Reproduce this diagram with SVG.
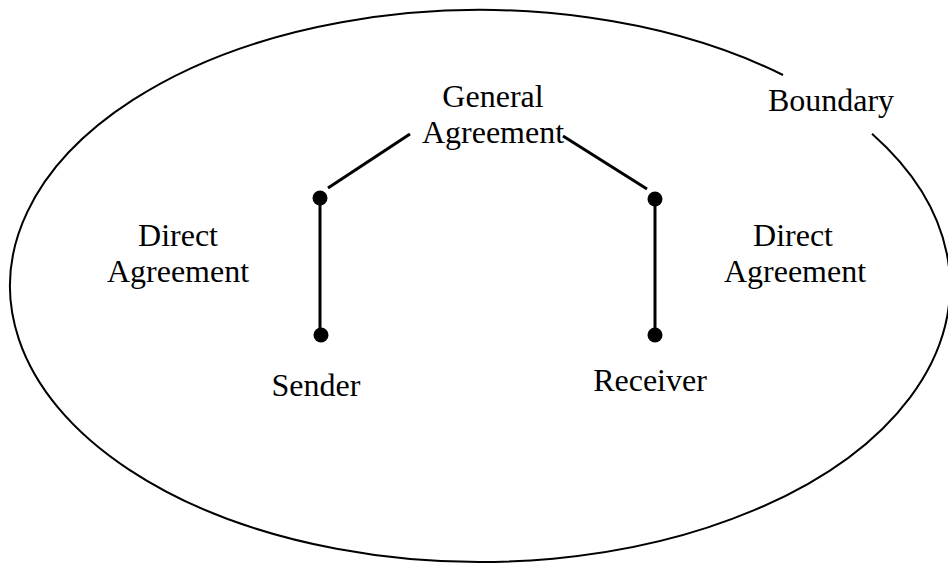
<svg xmlns="http://www.w3.org/2000/svg" width="948" height="564" viewBox="0 0 948 564">
  <style>
    .label { font-family: "Liberation Serif", "Times New Roman", serif; font-size: 32px; fill: #000; text-anchor: middle; }
    .link { stroke: #000; stroke-width: 3; fill: none; }
    .dot { fill: #000; }
  </style>
  <rect width="948" height="564" fill="#fff"/>

  <!-- boundary ellipse, open where its label sits -->
  <g id="boundary">
    <path d="M 872 133.7 A 470 276 0 1 1 783 75" fill="none" stroke="#000" stroke-width="2"/>
    <text class="label" x="831" y="111">Boundary</text>
  </g>

  <g id="connectors">
    <line class="link" x1="328" y1="188" x2="410" y2="134"/>
    <line class="link" x1="563" y1="136" x2="647" y2="189"/>
    <line class="link" x1="320" y1="198" x2="320" y2="335"/>
    <line class="link" x1="655" y1="199" x2="655" y2="335"/>
  </g>

  <g id="general-agreement">
    <text class="label" x="493" y="107">General</text>
    <text class="label" x="493" y="143">Agreement</text>
  </g>

  <g id="direct-agreement-left">
    <circle class="dot" cx="320" cy="198" r="7.5"/>
    <text class="label" x="178" y="246">Direct</text>
    <text class="label" x="178" y="282">Agreement</text>
  </g>

  <g id="direct-agreement-right">
    <circle class="dot" cx="655" cy="199" r="7.5"/>
    <text class="label" x="793" y="246">Direct</text>
    <text class="label" x="795" y="282">Agreement</text>
  </g>

  <g id="sender">
    <circle class="dot" cx="321" cy="335" r="7.5"/>
    <text class="label" x="316" y="396">Sender</text>
  </g>

  <g id="receiver">
    <circle class="dot" cx="655" cy="335" r="7.5"/>
    <text class="label" x="650" y="391">Receiver</text>
  </g>
</svg>
